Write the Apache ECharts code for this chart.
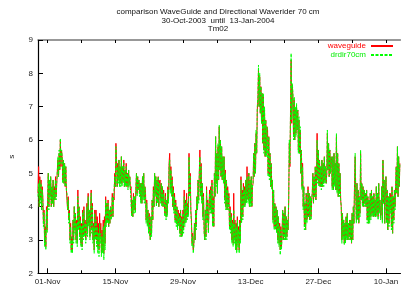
<!DOCTYPE html>
<html>
<head>
<meta charset="utf-8">
<script src="https://cdn.jsdelivr.net/npm/echarts@6/dist/echarts.min.js"></script>
<style>
html,body{margin:0;padding:0;background:#fff;}
#chart{width:401px;height:287px;}
</style>
</head>
<body>
<div id="chart"></div>
<script>
// ---- data (3-hourly samples starting 30-Oct-2003 00:00 UTC) ----
const startDate = Date.UTC(2003, 9, 30, 0, 0);
const stepHours = 3;
const xMinDate = Date.UTC(2003, 9, 30);
const xMaxDate = Date.UTC(2004, 0, 13);

const titleLines = ["comparison WaveGuide and Directional Waverider 70 cm", "30-Oct-2003  until  13-Jan-2004", "Tm02"];
const seriesNames = ["waveguide", "drdir70cm"];
const labelDates = ["2003-11-01", "2003-11-15", "2003-11-29", "2003-12-13", "2003-12-27", "2004-01-10"];
const weekDates = ["2003-11-01","2003-11-08","2003-11-15","2003-11-22","2003-11-29","2003-12-06","2003-12-13","2003-12-20","2003-12-27","2004-01-03","2004-01-10"];
const monthNames = ["Jan","Feb","Mar","Apr","May","Jun","Jul","Aug","Sep","Oct","Nov","Dec"];

const waveguide = [
4.4,5.2,4.0,4.9,4.2,4.8,3.9,4.6, 4.3,3.5,3.9,2.9,3.4,2.8,4.0,3.3,
4.2,5.0,4.0,4.8,4.3,4.9,4.0,4.6, 4.1,4.8,4.0,4.6,4.2,4.9,4.3,4.7,
4.7,5.4,4.9,5.6,5.1,6.0,5.2,5.7, 5.5,4.8,5.4,4.7,5.3,4.6,5.2,4.5,
4.5,3.9,4.3,3.6,3.9,3.0,3.5,2.7, 3.1,2.7,3.6,3.0,4.0,3.3,3.8,3.0,
3.6,2.9,4.5,3.4,4.0,3.1,3.7,2.9, 3.5,2.8,3.9,3.1,4.0,3.2,3.6,3.0,
3.3,4.1,3.2,4.4,3.5,3.9,3.1,3.8, 4.5,3.3,4.1,3.0,3.5,2.7,3.9,3.1,
3.9,3.0,3.7,2.8,3.5,2.7,3.8,3.1, 3.5,2.6,3.3,2.7,3.6,2.6,3.7,2.9,
4.3,3.5,4.1,3.6,4.2,3.4,3.9,3.5,4.0,3.7, 3.8,4.4,3.7,4.3,4.2,5.0,4.6,5.9,
5.4,4.6,5.3,4.8,5.4,4.7,5.2,4.7, 5.5,4.7,5.2,4.8,5.4,4.6,5.1,4.7,
5.3,4.6,5.0,4.6,5.1,4.7,4.9,4.5, 4.6,3.8,4.2,3.7,4.4,3.9,4.3,3.9,
4.5,5.0,4.4,4.9,4.5,4.8,4.4,4.7, 4.2,4.7,4.1,4.9,4.3,5.0,4.2,4.6,
4.4,3.6,4.2,3.5,3.9,3.3,3.8,3.2, 3.0,3.7,3.2,4.2,3.6,4.6,4.0,5.0,
4.4,4.9,4.1,4.8,4.2,4.9,4.0,4.7, 4.8,4.2,4.7,4.1,4.6,4.0,4.5,4.1,
3.8,4.4,3.7,4.2,3.8,4.6,4.2,5.3, 5.6,4.5,5.2,4.4,4.9,4.0,4.6,3.9,
4.4,3.6,4.2,3.5,4.0,3.4,3.9,3.5, 3.8,3.2,3.9,3.1,3.7,3.2,3.9,3.3,
4.5,3.5,4.2,3.6,4.4,3.7,4.1,3.8, 5.6,4.4,5.0,3.9,3.6,2.9,3.2,2.7,
2.9,3.5,3.0,3.9,3.4,4.3,3.9,4.8,4.2,5.0, 5.7,4.4,5.3,4.2,4.7,3.7,4.4,3.3,
3.0,3.9,3.1,4.6,3.6,4.2,3.3,3.9, 4.5,3.9,4.6,3.8,4.8,3.5,4.3,3.4,
5.0,4.3,6.1,4.7,5.6,4.4,5.8,4.8, 6.4,5.1,6.0,4.9,5.8,4.8,5.5,4.8,
5.5,4.2,5.1,4.0,4.8,3.9,4.6,4.0, 4.4,3.4,4.0,3.3,3.8,3.0,3.6,2.9,
4.4,3.0,3.6,2.8,3.5,2.7,3.7,2.9, 3.4,2.7,3.6,3.0,4.9,3.6,4.5,3.7,
4.7,4.0,4.6,4.1,4.8,4.2,5.2,4.3, 4.2,5.0,4.0,4.8,4.1,4.9,4.0,4.6,
4.7,5.6,4.9,5.9,5.0,6.2,5.6,6.9, 7.2,8.1,7.0,7.9,6.8,7.6,6.5,7.4,
5.9,7.3,5.7,6.9,5.5,6.6,5.6,6.4, 6.3,5.0,6.1,4.9,5.6,4.6,5.3,4.6,
4.8,3.6,4.5,3.4,4.1,3.4,4.0,3.3, 3.9,3.0,3.7,2.9,3.5,2.7,3.4,2.8,
3.2,3.9,3.0,3.8,3.1,4.0,3.0,3.7,3.1,3.6, 3.3,4.2,5.9,5.2,6.8,8.4,6.5,7.6,
7.3,6.1,7.2,6.0,6.9,6.2,7.0,6.3, 6.9,5.7,6.6,5.6,6.3,5.0,5.7,4.6,
5.3,4.0,4.6,3.4,4.1,3.3,4.4,3.6, 3.7,4.6,3.7,4.4,3.6,4.3,3.7,4.2,
4.4,5.0,4.1,4.9,4.3,5.2,4.2,4.8, 6.2,4.8,5.7,4.7,5.4,4.6,5.2,4.6,
5.4,4.6,5.3,4.7,5.5,4.8,5.2,4.7, 5.0,6.2,5.1,5.9,4.9,5.7,5.0,5.5,
5.4,4.6,5.5,4.5,5.6,4.7,5.3,4.5, 6.1,4.5,5.6,4.3,5.3,4.4,5.0,4.2,
4.0,3.0,3.8,3.1,3.6,2.9,3.5,3.0, 3.7,3.1,3.8,3.0,3.5,3.1,3.6,3.0,
3.6,2.9,3.8,3.0,4.0,3.5,4.7,5.5, 4.4,3.6,4.7,3.7,4.5,3.5,4.3,3.8,
5.6,4.2,4.7,4.1,4.6,4.0,4.5,4.1,4.4,4.0, 4.5,3.6,4.3,3.5,4.2,3.6,4.4,3.7,
4.5,3.8,4.3,3.7,4.4,3.8,4.2,3.7, 4.6,3.8,4.4,3.7,4.7,3.9,4.2,3.7,
3.8,4.6,3.6,5.4,4.1,4.8,3.5,4.3, 4.9,3.6,4.5,3.3,4.3,3.5,4.4,3.9,
4.4,3.4,4.6,3.2,4.3,3.6,4.5,4.0, 4.6,5.2,4.4,5.8,4.3,5.5,4.6,5.3
];

const drdir70cm = [
4.3,4.7,4.0,4.8,4.1,4.7,3.9,4.5, 4.2,3.4,3.8,2.8,3.3,2.7,3.9,3.2,
4.2,5.0,3.9,4.8,4.2,4.9,4.0,4.6, 4.1,4.8,4.0,4.5,4.2,4.8,4.2,4.7,
4.7,5.5,4.9,5.7,5.1,6.05,5.3,5.7, 5.5,4.7,5.4,4.7,5.3,4.6,5.2,4.5,
4.4,3.9,4.2,3.5,3.8,2.9,3.4,2.6, 3.0,2.6,3.6,2.9,4.0,3.2,3.8,2.9,
3.5,2.8,4.3,3.3,4.0,3.0,3.6,2.8, 3.4,2.7,3.8,3.0,3.9,3.1,3.5,2.9,
3.2,4.0,3.1,4.3,3.4,3.9,3.0,3.7, 4.4,3.2,4.0,2.9,3.4,2.6,3.8,3.0,
3.6,2.8,3.4,2.6,3.2,2.5,3.5,2.9, 3.2,2.5,3.1,2.6,3.4,2.4,3.5,2.7,
4.2,3.4,4.1,3.5,4.1,3.4,3.9,3.5,4.0,3.6, 3.7,4.3,3.7,4.2,4.2,4.9,4.6,5.8,
5.4,4.6,5.2,4.7,5.4,4.6,5.2,4.6, 5.5,4.6,5.2,4.7,5.3,4.6,5.1,4.6,
5.2,4.6,5.0,4.5,5.1,4.6,4.9,4.5, 4.5,3.7,4.2,3.7,4.3,3.8,4.3,3.8,
4.5,5.0,4.3,4.9,4.5,4.8,4.3,4.7, 4.1,4.7,4.1,4.9,4.2,5.0,4.1,4.6,
4.3,3.5,4.1,3.4,3.9,3.2,3.7,3.1, 3.0,3.7,3.1,4.2,3.6,4.5,4.0,5.0,
4.3,4.9,4.0,4.8,4.1,4.9,4.0,4.7, 4.7,4.1,4.7,4.0,4.6,4.0,4.4,4.0,
3.7,4.3,3.6,4.2,3.7,4.5,4.1,5.2, 5.4,4.4,5.1,4.3,4.8,4.0,4.5,3.8,
4.3,3.5,4.1,3.4,4.0,3.3,3.8,3.4, 3.7,3.1,3.9,3.1,3.6,3.1,3.8,3.2,
4.3,3.4,4.1,3.5,4.2,3.6,4.0,3.7, 5.5,4.3,4.9,3.8,3.5,2.8,3.1,2.6,
2.8,3.5,3.0,3.9,3.3,4.3,3.9,4.8,4.1,5.0, 5.5,4.3,5.2,4.1,4.7,3.6,4.3,3.2,
3.0,3.9,3.0,4.5,3.5,4.1,3.2,3.9, 4.4,3.8,4.5,3.8,4.7,3.4,4.2,3.4,
5.0,4.3,6.1,4.6,5.6,4.4,5.9,4.8, 6.45,5.1,6.0,4.9,5.8,4.8,5.5,4.7,
5.5,4.1,5.0,3.9,4.8,3.9,4.5,3.9, 4.3,3.3,3.9,3.2,3.7,2.9,3.5,2.8,
3.9,2.9,3.5,2.7,3.4,2.6,3.6,2.8, 3.3,2.6,3.5,2.9,4.8,3.5,4.4,3.6,
4.6,4.0,4.5,4.0,4.8,4.1,4.9,4.2, 4.1,5.0,4.0,4.8,4.0,4.9,4.0,4.6,
4.7,5.6,4.9,5.9,5.0,6.3,5.6,7.0, 7.3,8.25,7.0,8.0,6.8,7.6,6.5,7.4,
5.9,7.4,5.6,7.0,5.5,6.6,5.5,6.4, 6.4,4.9,6.1,4.8,5.6,4.6,5.3,4.5,
4.8,3.5,4.5,3.3,4.1,3.3,4.0,3.2, 3.9,2.9,3.7,2.8,3.4,2.55,3.3,2.7,
3.1,3.9,3.0,3.8,3.0,4.0,3.0,3.7,3.0,3.6, 3.3,4.3,6.0,5.3,6.9,8.6,6.6,7.7,
7.4,6.0,7.3,6.0,7.0,6.1,7.1,6.3, 6.9,5.6,6.7,5.6,6.4,5.0,5.7,4.5,
5.2,3.9,4.6,3.3,4.1,3.3,4.4,3.5, 3.7,4.5,3.7,4.4,3.6,4.3,3.6,4.2,
4.4,5.0,4.1,4.9,4.3,5.2,4.2,4.8, 6.0,4.7,5.7,4.6,5.4,4.6,5.2,4.5,
5.4,4.6,5.3,4.6,5.5,4.7,5.2,4.7, 5.0,6.3,5.1,5.9,4.9,5.7,5.0,5.5,
5.4,4.5,5.5,4.5,5.6,4.6,5.3,4.5, 6.2,4.4,5.6,4.3,5.3,4.3,5.0,4.2,
4.0,2.9,3.8,3.0,3.6,2.85,3.5,2.9, 3.7,3.0,3.8,3.0,3.5,3.0,3.6,3.0,
3.6,2.9,3.8,3.0,4.0,3.5,4.7,5.6, 4.4,3.5,4.7,3.6,4.5,3.5,4.3,3.7,
5.7,4.2,4.7,4.0,4.6,4.0,4.5,4.0,4.4,4.0, 4.5,3.5,4.3,3.5,4.2,3.5,4.4,3.6,
4.5,3.7,4.3,3.7,4.4,3.7,4.2,3.7, 4.6,3.7,4.4,3.6,4.7,3.8,4.2,3.6,
3.8,4.6,3.5,5.4,4.1,4.8,3.5,4.3, 4.9,3.5,4.5,3.3,4.3,3.4,4.4,3.8,
4.3,3.3,4.6,3.2,4.3,3.5,4.5,3.9, 4.6,5.2,4.4,5.8,4.3,5.5,4.6,5.3
];

// ---- build ----
const FONT = "'Liberation Sans', Arial, sans-serif";
function toPairs(arr) {
  return arr.map((v, i) => [startDate + i * stepHours * 3600000, v]);
}
function ts(s) { const p = s.split('-'); return Date.UTC(+p[0], +p[1] - 1, +p[2]); }
function fmt(val) {
  const d = new Date(val);
  const dd = d.getUTCDate();
  return (dd < 10 ? '0' + dd : '' + dd) + '-' + monthNames[d.getUTCMonth()];
}
const labelTs = labelDates.map(ts);
const weekTs = weekDates.map(ts);

const chart = echarts.init(document.getElementById('chart'), null, {renderer: 'canvas'});
const baseX = {
  type: 'value', min: xMinDate, max: xMaxDate, gridIndex: 0,
  splitLine: {show: false}
};
chart.setOption({
  animation: false,
  backgroundColor: '#fff',
  textStyle: {fontFamily: FONT},
  grid: {left: 33, right: -2, top: 40, bottom: 13.7, containLabel: false},
  graphic: titleLines.map((t, i) => ({
    type: 'text', x: 218, y: 12 + i * 8.4,
    style: {text: t, align: 'center', verticalAlign: 'middle',
            font: '8px ' + FONT, fill: '#111'}
  })),
  legend: {
    data: [
      {name: seriesNames[0], textStyle: {color: '#ff0000'}},
      {name: seriesNames[1], textStyle: {color: '#00ee00'}}
    ],
    orient: 'vertical', align: 'right', right: 7, top: 42,
    itemWidth: 22, itemHeight: 8, itemGap: 1, padding: 0,
    itemStyle: {opacity: 0},
    textStyle: {fontSize: 8, fontFamily: FONT},
    selectedMode: false
  },
  xAxis: [
    Object.assign({}, baseX, {
      position: 'bottom',
      axisLine: {show: true, lineStyle: {color: '#000', width: 1.2}},
      axisTick: {show: true, inside: true, length: 5, customValues: labelTs, lineStyle: {color: '#000'}},
      axisLabel: {show: true, customValues: labelTs, formatter: fmt, fontSize: 8, color: '#222', margin: 4, fontFamily: FONT}
    }),
    Object.assign({}, baseX, {
      position: 'bottom',
      axisLine: {show: false},
      axisTick: {show: true, inside: true, length: 3, customValues: weekTs, lineStyle: {color: '#000'}},
      axisLabel: {show: false}
    }),
    Object.assign({}, baseX, {
      position: 'top',
      axisLine: {show: true, lineStyle: {color: '#777', width: 1.5}},
      axisTick: {show: true, inside: true, length: 3, customValues: weekTs, lineStyle: {color: '#000'}},
      axisLabel: {show: false}
    })
  ],
  yAxis: [{
    type: 'value', min: 2, max: 9, interval: 1,
    name: 's', nameLocation: 'middle', nameGap: 22, nameRotate: 90,
    nameTextStyle: {fontSize: 8, color: '#222', fontFamily: FONT},
    axisLine: {show: true, lineStyle: {color: '#000', width: 1.2}},
    axisTick: {show: true, inside: true, length: 5, lineStyle: {color: '#000'}},
    axisLabel: {fontSize: 8, color: '#222', margin: 5, fontFamily: FONT},
    splitLine: {show: false}
  }],
  series: [
    {
      name: seriesNames[0], type: 'line', xAxisIndex: 0, yAxisIndex: 0,
      data: toPairs(waveguide), showSymbol: false, symbol: 'none',
      color: '#ff0000',
      lineStyle: {color: '#ff0000', width: 1},
      silent: true, z: 2
    },
    {
      name: seriesNames[1], type: 'line', xAxisIndex: 0, yAxisIndex: 0,
      data: toPairs(drdir70cm), showSymbol: false, symbol: 'none',
      color: '#00ff00',
      lineStyle: {color: '#00ff00', width: 1, type: [3, 1.5]},
      silent: true, z: 3
    }
  ]
});
</script>
</body>
</html>
